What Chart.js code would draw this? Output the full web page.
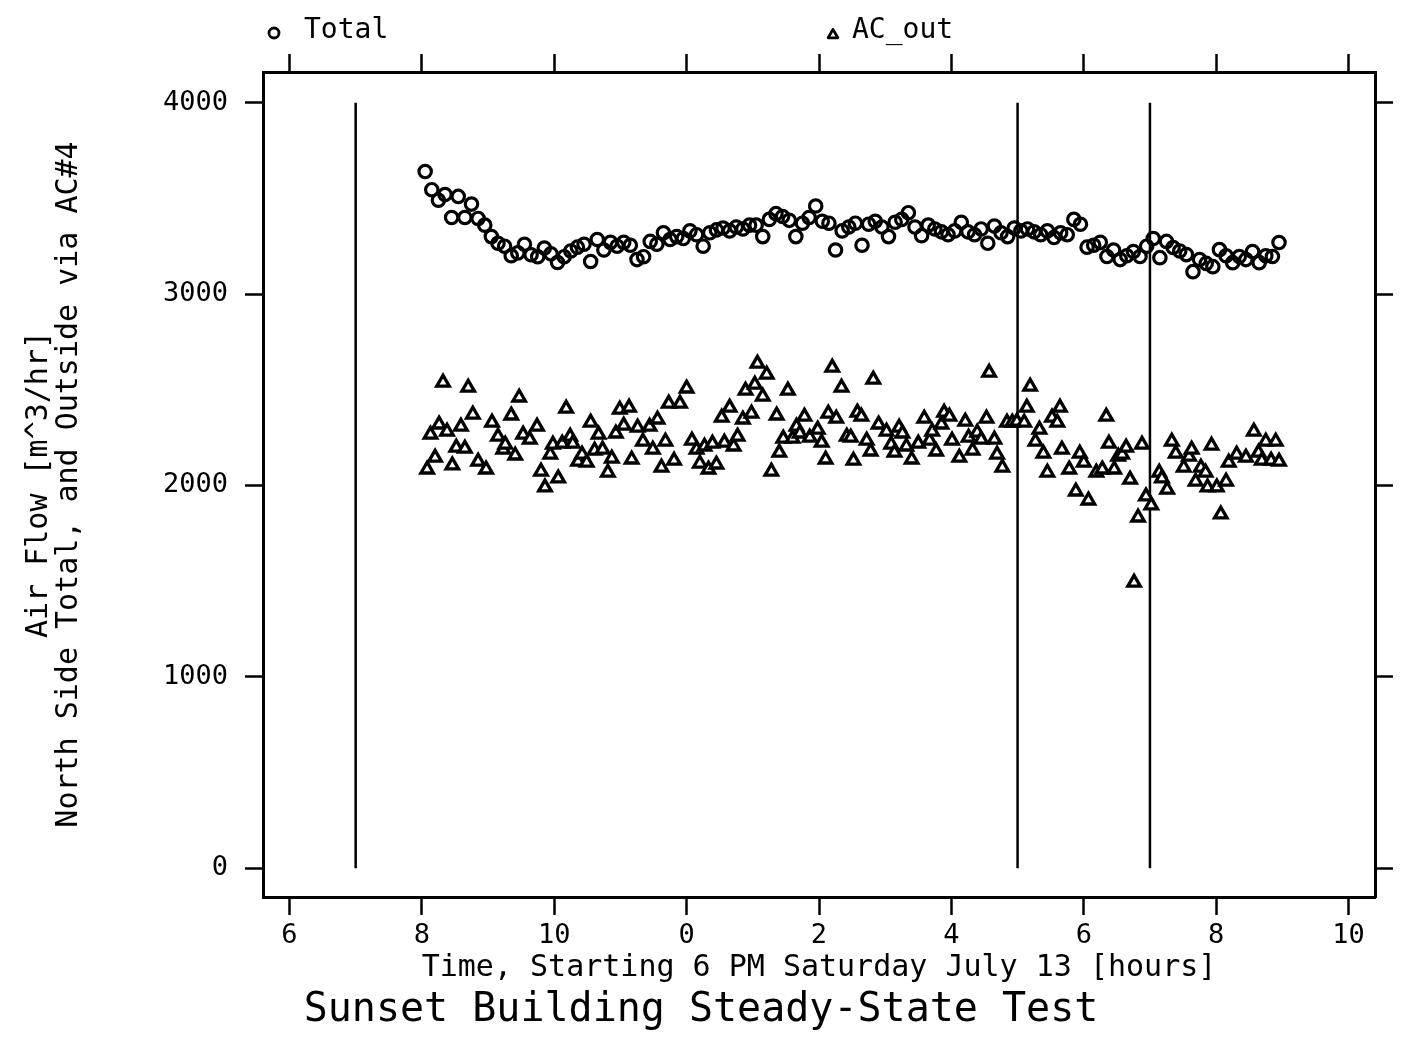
<!DOCTYPE html>
<html><head><meta charset="utf-8">
<script src="https://cdn.jsdelivr.net/npm/chart.js@4.4.0/dist/chart.umd.min.js"></script>
<style>html,body{margin:0;padding:0;background:#fff;overflow:hidden;}</style>
</head><body>
<canvas id="c" width="1402" height="1043"></canvas>
<script>
const seriesNames = ['Total', 'AC_out'];
const totalHours = [
 8.05,8.15,8.25,8.35,8.45,8.55,8.65,8.75,8.85,8.95,
 9.05,9.15,9.25,9.35,9.45,9.55,9.65,9.75,9.85,9.95,
 10.05,10.15,10.25,10.35,10.45,10.55,10.65,10.75,10.85,10.95,
 11.05,11.15,11.25,11.35,11.45,11.55,11.65,11.75,11.85,11.95,
 12.05,12.15,12.25,12.35,12.45,12.55,12.65,12.75,12.85,12.95,
 13.05,13.15,13.25,13.35,13.45,13.55,13.65,13.75,13.85,13.95,
 14.05,14.15,14.25,14.35,14.45,14.55,14.65,14.75,14.85,14.95,
 15.05,15.15,15.25,15.35,15.45,15.55,15.65,15.75,15.85,15.95,
 16.05,16.15,16.25,16.35,16.45,16.55,16.65,16.75,16.85,16.95,
 17.05,17.15,17.25,17.35,17.45,17.55,17.65,17.75,17.85,17.95,
 18.05,18.15,18.25,18.35,18.45,18.55,18.65,18.75,18.85,18.95,
 19.05,19.15,19.25,19.35,19.45,19.55,19.65,19.75,19.85,19.95,
 20.05,20.15,20.25,20.35,20.45,20.55,20.65,20.75,20.85,20.95
];
const totalFlow = [
 3640,3545,3490,3520,3400,3510,3400,3470,3395,3360,
 3300,3265,3250,3200,3215,3260,3205,3195,3240,3210,
 3165,3195,3225,3245,3260,3170,3285,3230,3270,3250,
 3270,3255,3180,3195,3275,3260,3320,3285,3300,3290,
 3330,3310,3250,3320,3335,3345,3330,3350,3340,3360,
 3360,3300,3390,3420,3405,3385,3300,3370,3400,3460,
 3380,3370,3230,3330,3350,3370,3255,3365,3380,3350,
 3300,3375,3390,3425,3350,3305,3360,3340,3325,3310,
 3330,3375,3325,3310,3340,3265,3355,3320,3300,3345,
 3330,3340,3325,3310,3330,3295,3320,3310,3390,3365,
 3245,3255,3270,3196,3230,3180,3200,3222,3196,3250,
 3290,3190,3275,3243,3225,3206,3117,3180,3160,3143,
 3232,3200,3164,3196,3180,3222,3164,3200,3196,3269
];
const acHours = [
 8.08,8.13,8.20,8.26,8.32,8.38,8.46,8.52,8.59,8.65,8.70,8.77,8.85,8.97,
 9.06,9.15,9.23,9.26,9.35,9.41,9.47,9.53,9.63,9.74,9.80,9.86,9.94,9.98,
 10.06,10.12,10.18,10.24,10.28,10.36,10.42,10.49,10.55,10.61,10.67,10.73,10.81,10.87,10.93,10.99,
 11.05,11.13,11.17,11.26,11.34,11.44,11.49,11.56,11.62,11.68,11.73,11.81,11.90,
 12.00,12.08,12.15,12.20,12.27,12.33,12.39,12.45,12.53,12.57,12.65,12.71,12.77,12.85,12.89,12.98,
 13.03,13.07,13.15,13.21,13.28,13.36,13.40,13.46,13.53,13.60,13.66,13.71,13.78,13.86,13.98,
 14.04,14.10,14.14,14.20,14.26,14.34,14.42,14.48,14.52,14.58,14.64,14.72,14.78,14.82,14.90,
 15.02,15.09,15.14,15.21,15.26,15.32,15.40,15.50,15.59,15.67,15.71,15.77,15.85,15.89,15.97,
 16.01,16.12,16.21,16.26,16.32,16.39,16.45,16.53,16.57,16.65,16.69,16.77,16.84,16.92,16.99,
 17.10,17.14,17.19,17.27,17.33,17.39,17.45,17.52,17.60,17.64,17.67,17.78,17.88,17.94,
 18.00,18.07,18.19,18.28,18.34,18.38,18.46,18.52,18.58,18.64,18.70,18.76,18.82,18.88,18.94,
 19.02,19.14,19.18,19.26,19.33,19.39,19.51,19.59,19.63,19.69,19.77,19.84,19.87,19.93,
 20.01,20.07,20.15,20.19,20.31,20.45,20.57,20.64,20.69,20.75,20.83,20.90,20.95
];
const acFlow = [
 2084,2266,2146,2319,2538,2282,2105,2198,2308,2193,2512,2371,2125,2084,
 2329,2256,2188,2214,2366,2157,2460,2266,2240,2308,2073,1990,2162,2214,
 2037,2219,2402,2256,2219,2125,2162,2120,2329,2183,2266,2188,2068,2141,2272,2397,
 2313,2407,2136,2303,2230,2308,2188,2345,2094,2230,2428,2130,2428,
 2507,2235,2188,2115,2204,2084,2219,2110,2355,2224,2407,2204,2256,2345,2496,2376,
 2527,2637,2465,2580,2073,2366,2172,2245,2496,2245,2308,2272,2360,2250,2292,
 2224,2136,2376,2616,2350,2512,2256,2250,2130,2381,2360,2235,2178,2553,2319,
 2282,2214,2172,2303,2272,2204,2136,2219,2350,2235,2282,2178,2319,2381,2360,
 2235,2146,2334,2250,2183,2277,2240,2350,2590,2240,2162,2094,2329,2329,2334,
 2329,2407,2517,2230,2292,2167,2068,2355,2329,2407,2188,2084,1969,2167,
 2120,1922,2068,2084,2360,2219,2084,2151,2162,2198,2031,1493,1833,2214,1943,
 1896,2068,2037,1979,2230,2167,2094,2151,2188,2021,2094,2068,1990,2209,
 1990,1849,2021,2120,2162,2146,2282,2172,2130,2230,2130,2230,2125
];
const markerHours = [7, 17, 19];
const markerRange = [0, 4000];
const xTickValues = [6, 8, 10, 12, 14, 16, 18, 20, 22];
const xTickLabels = ['6', '8', '10', '0', '2', '4', '6', '8', '10'];
const yTickValues = [0, 1000, 2000, 3000, 4000];
const xTitle = 'Time, Starting 6 PM Saturday July 13 [hours]';
const yTitle = ['Air Flow [m^3/hr]', 'North Side Total, and Outside via AC#4'];
const chartTitle = 'Sunset Building Steady-State Test';

const FONT = '"DejaVu Sans Mono", "Liberation Mono", monospace';
Chart.defaults.font.family = FONT;
Chart.defaults.color = '#000';

const toXY = (xs, ys) => xs.map((x, i) => ({x: x, y: ys[i]}));
const X_MIN = 5.6, X_MAX = 22.4, Y_MIN = -150, Y_MAX = 4160;

const tickGrid = {display: true, drawOnChartArea: false, drawTicks: true, tickLength: 18, tickWidth: 2.5, tickColor: '#000', color: '#000'};
const axisBorder = {display: true, color: '#000', width: 3};
const setXTicks = s => { s.ticks = xTickValues.map(v => ({value: v})); };
const setYTicks = s => { s.ticks = yTickValues.map(v => ({value: v})); };

const legendPlugin = {
  id: 'customLegend',
  afterDraw(chart) {
    const ctx = chart.ctx;
    ctx.save();
    ctx.strokeStyle = '#000';
    ctx.fillStyle = '#000';
    ctx.lineWidth = 2.8;
    ctx.lineJoin = 'round';
    ctx.font = '28px ' + FONT;
    ctx.textBaseline = 'middle';
    ctx.textAlign = 'left';
    ctx.beginPath();
    ctx.arc(274, 33, 5, 0, Math.PI * 2);
    ctx.stroke();
    ctx.fillText(seriesNames[0], 304, 31);
    const tx = 833, ty = 35, r = 5.6;
    ctx.beginPath();
    ctx.moveTo(tx, ty - r);
    ctx.lineTo(tx + r * 0.866, ty + r * 0.5);
    ctx.lineTo(tx - r * 0.866, ty + r * 0.5);
    ctx.closePath();
    ctx.stroke();
    ctx.fillText(seriesNames[1], 852, 31);
    ctx.restore();
  }
};

const datasets = [
  {label: seriesNames[0], data: toXY(totalHours, totalFlow), pointStyle: 'circle', pointRadius: 6.2, pointHoverRadius: 6.2,
   pointBorderColor: '#000', pointBackgroundColor: 'rgba(0,0,0,0)', borderColor: '#000', backgroundColor: 'rgba(0,0,0,0)',
   pointBorderWidth: 3.2, borderWidth: 3.2, showLine: false},
  {label: seriesNames[1], data: toXY(acHours, acFlow), pointStyle: 'triangle', pointRadius: 7.2, pointHoverRadius: 7.2,
   pointBorderColor: '#000', pointBackgroundColor: '#fff', borderColor: '#000', backgroundColor: '#fff',
   pointBorderWidth: 3.3, borderWidth: 3.3, showLine: false}
].concat(markerHours.map(h => ({
  label: 'marker', data: [{x: h, y: markerRange[0]}, {x: h, y: markerRange[1]}],
  showLine: true, borderColor: '#000', borderWidth: 2.5, pointRadius: 0, pointHoverRadius: 0, fill: false
})));

new Chart(document.getElementById('c'), {
  type: 'scatter',
  data: {datasets: datasets},
  plugins: [legendPlugin],
  options: {
    responsive: false,
    animation: false,
    devicePixelRatio: 1,
    layout: {padding: 0},
    events: [],
    plugins: {
      legend: {display: false},
      tooltip: {enabled: false},
      title: {display: true, text: chartTitle, position: 'bottom', color: '#000',
              font: {size: 40, weight: 'normal', lineHeight: 1}, padding: {top: 0, bottom: 12}}
    },
    scales: {
      x: {type: 'linear', position: 'bottom', min: X_MIN, max: X_MAX,
          afterBuildTicks: setXTicks,
          ticks: {callback: (v, i) => xTickLabels[i], font: {size: 27}, padding: 5, color: '#000', maxRotation: 0, autoSkip: false},
          grid: tickGrid, border: axisBorder,
          title: {display: true, text: xTitle, color: '#000', font: {size: 30, lineHeight: 1}, padding: {top: 0, bottom: 8}},
          afterFit: s => { s.height = 94; }},
      x2: {type: 'linear', position: 'top', min: X_MIN, max: X_MAX,
          afterBuildTicks: setXTicks,
          ticks: {display: false},
          grid: tickGrid, border: axisBorder,
          afterFit: s => { s.height = 72; }},
      y: {type: 'linear', position: 'left', min: Y_MIN, max: Y_MAX,
          afterBuildTicks: setYTicks,
          ticks: {font: {size: 27}, padding: 17, color: '#000', callback: v => String(v)},
          grid: tickGrid, border: axisBorder,
          title: {display: true, text: yTitle, color: '#000', font: {size: 30, lineHeight: 1}, padding: {top: 24, bottom: 0}},
          afterFit: s => { s.width = 263; }},
      y2: {type: 'linear', position: 'right', min: Y_MIN, max: Y_MAX,
          afterBuildTicks: setYTicks,
          ticks: {display: false},
          grid: tickGrid, border: axisBorder,
          afterFit: s => { s.width = 27; }}
    }
  }
});
</script>
</body></html>
